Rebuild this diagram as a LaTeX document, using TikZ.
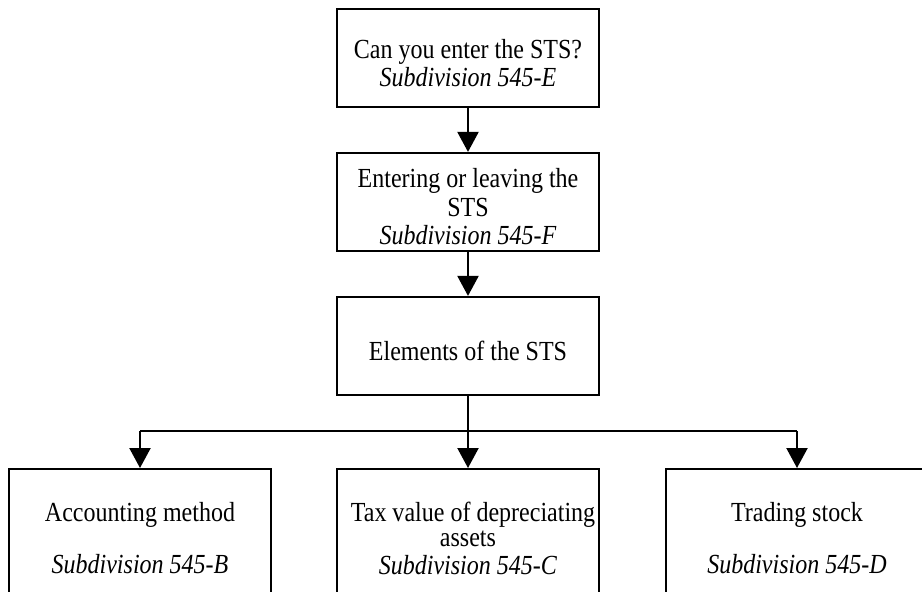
\documentclass[tikz,border=0pt]{standalone}
\usepackage{fontspec}
\setmainfont{Liberation Serif}[FakeStretch=0.87]
\usetikzlibrary{arrows.meta}

\newcommand{\padline}{\rule{0pt}{14.5pt}}

\tikzset{
	stsbox/.style = {draw, line width=1.1pt, minimum width=131pt, minimum height=49pt,
		inner sep=0pt, align=center, font=\fontsize{13.8pt}{14.25pt}\selectfont},
	lowbox/.style = {stsbox, anchor=north, minimum height=69pt},
	link/.style = {line width=1.1pt, -{Triangle[length=10pt,width=10.5pt]}}
}

\begin{document}
\begin{tikzpicture}[x=0.5pt,y=-0.5pt]
	\useasboundingbox (0,0) rectangle (922,591);
	\clip (0,0) rectangle (922,591);

	\node[stsbox] (enter) at (468,58) {\padline Can you enter the STS?\\\textit{Subdivision 545-E}};
	\node[stsbox] (entering) at (468,202) {\padline Entering or leaving the\\STS\\\textit{Subdivision 545-F}};
	\node[stsbox] (elements) at (468,346) {\padline Elements of the STS};
	\node[lowbox] (accounting) at (140,468) {Accounting method\\[12pt]\textit{Subdivision 545-B}};
	\node[lowbox] (taxvalue) at (468,468) {\kern5pt Tax value of depreciating\\[-1.5pt]assets\\[-0.5pt]\textit{Subdivision 545-C}};
	\node[lowbox] (trading) at (797,468) {Trading stock\\[12pt]\textit{Subdivision 545-D}};
	\coordinate (bar) at (468,431);

	\draw[link] (enter) -- (entering);
	\draw[link] (entering) -- (elements);
	\draw[link] (elements) -- (taxvalue);
	\draw[line width=1.1pt] (accounting.north |- bar) -- (trading.north |- bar);
	\draw[link] (accounting.north |- bar) -- (accounting);
	\draw[link] (trading.north |- bar) -- (trading);
\end{tikzpicture}
\end{document}
